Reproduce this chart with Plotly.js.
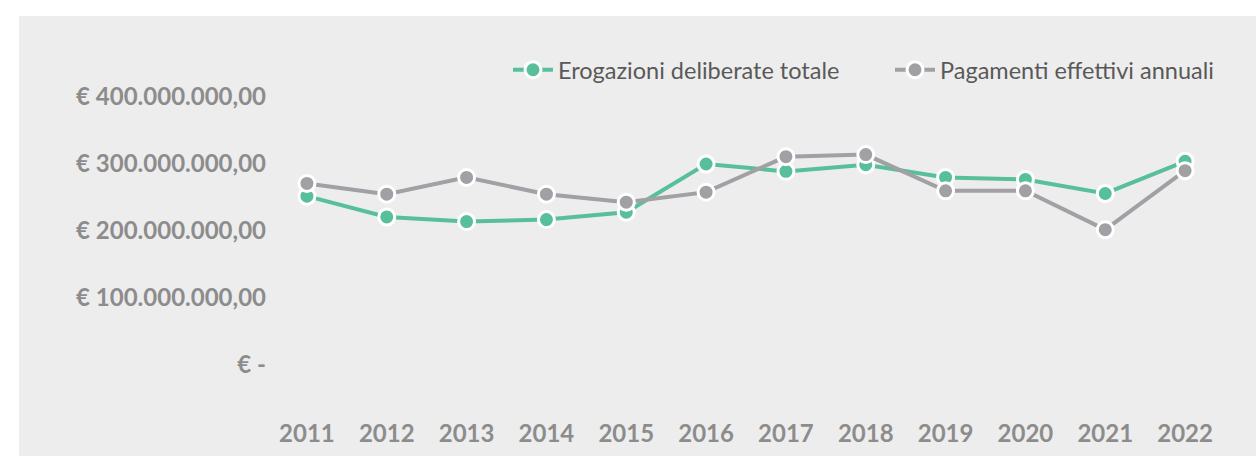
<!DOCTYPE html>
<html>
<head>
<meta charset="utf-8">
<script src="https://cdn.plot.ly/plotly-3.0.1.min.js"></script>
<style>
  html, body { margin: 0; padding: 0; background: #ffffff; }
  #chart { position: absolute; left: 19px; top: 16px; width: 1237px; height: 440px; }
</style>
</head>
<body>
<div id="chart"></div>
<script>
const years = ["2011","2012","2013","2014","2015","2016","2017","2018","2019","2020","2021","2022"];
const erogazioni = [252e6, 221e6, 214e6, 217e6, 228e6, 300e6, 289e6, 299e6, 280e6, 277e6, 256e6, 304e6];
const pagamenti = [271e6, 255e6, 280e6, 255e6, 243e6, 258e6, 311e6, 314e6, 260e6, 260e6, 202e6, 290e6];
const yTickVals = [0, 100e6, 200e6, 300e6, 400e6];
const yTickText = ["€ -", "€ 100.000.000,00", "€ 200.000.000,00", "€ 300.000.000,00", "€ 400.000.000,00"];
const seriesNames = ["Erogazioni deliberate totale", "Pagamenti effettivi annuali"];

const green = "#57c09a";
const grey = "#a0a0a5";

const traces = [
  {
    x: years, y: erogazioni, name: seriesNames[0], type: "scatter", mode: "lines+markers",
    line: { color: green, width: 4 },
    marker: { color: green, size: 16, line: { color: "#ffffff", width: 3 } },
    cliponaxis: false
  },
  {
    x: years, y: pagamenti, name: seriesNames[1], type: "scatter", mode: "lines+markers",
    line: { color: grey, width: 4 },
    marker: { color: grey, size: 16, line: { color: "#ffffff", width: 3 } },
    cliponaxis: false
  }
];

const layout = {
  width: 1237, height: 440,
  paper_bgcolor: "#ededed",
  plot_bgcolor: "#ededed",
  margin: { l: 248, r: 31, t: 81, b: 91, autoexpand: false },
  font: { family: "Lato, 'Open Sans', sans-serif", color: "#8c8c8c" },
  showlegend: true,
  legend: {
    orientation: "h", x: 489 / 1237, xref: "container", xanchor: "left",
    y: 1 - 54 / 440, yref: "container", yanchor: "middle",
    font: { family: "Lato, sans-serif", size: 23.5, color: "#595959" },
    bgcolor: "rgba(0,0,0,0)", itemwidth: 40, entrywidth: 327, entrywidthmode: "pixels"
  },
  xaxis: {
    type: "category", range: [-0.5, 11.5], showgrid: false, zeroline: false, showline: false,
    ticks: "", ticklabelstandoff: 52,
    tickfont: { family: "Lato, sans-serif", size: 24, color: "#8c8c8c", weight: "bold" },
    fixedrange: true
  },
  yaxis: {
    range: [0, 400e6], showgrid: false, zeroline: false, showline: false, ticks: "",
    tickvals: yTickVals, ticktext: yTickText,
    tickfont: { family: "Lato, sans-serif", size: 24, color: "#8c8c8c", weight: "bold" },
    fixedrange: true
  }
};

Plotly.newPlot("chart", traces, layout, { displayModeBar: false, staticPlot: true });
</script>
</body>
</html>
